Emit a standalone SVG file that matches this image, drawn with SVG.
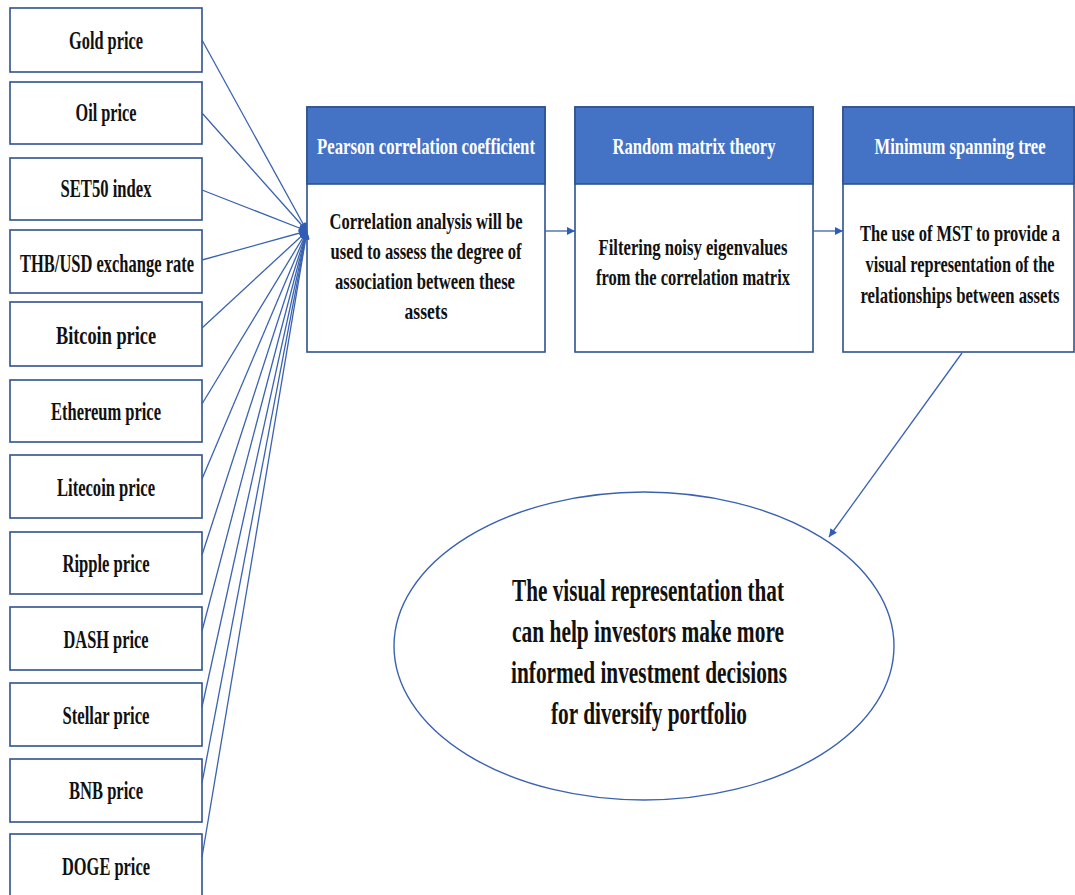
<svg xmlns="http://www.w3.org/2000/svg" width="1075" height="895" viewBox="0 0 1075 895">
<style>
.box{fill:#ffffff;stroke:#2F528F;stroke-width:1.6}
.hdr{fill:#4472C4;stroke:#2F528F;stroke-width:1.6}
.lbl{font-family:"Liberation Serif","Times New Roman",serif;font-weight:bold;font-size:25px;fill:#111111;text-anchor:middle}
.htx{font-family:"Liberation Serif","Times New Roman",serif;font-weight:bold;font-size:23px;fill:#ffffff;text-anchor:middle}
.btx{font-family:"Liberation Serif","Times New Roman",serif;font-weight:bold;font-size:23px;fill:#111111;text-anchor:middle}
.sm{font-size:18.5px}
.xs{font-size:17px}
.etx{font-family:"Liberation Serif","Times New Roman",serif;font-weight:bold;font-size:32px;fill:#111111;text-anchor:middle}
.con{fill:none;stroke:#3A62B0;stroke-width:1.3}
</style>
<defs>
<marker id="ah" viewBox="0 0 10 10" refX="10" refY="5" markerWidth="9" markerHeight="8" markerUnits="userSpaceOnUse" orient="auto">
<path d="M0,0 L10,5 L0,10 z" fill="#2F5DB5"/>
</marker>
</defs>
<rect x="0" y="0" width="1075" height="895" fill="#ffffff"/>

<g id="n-gold"><rect class="box" x="10" y="8" width="192" height="64"/><text class="lbl" x="106" y="49" textLength="74" lengthAdjust="spacingAndGlyphs">Gold price</text></g>
<g id="n-oil"><rect class="box" x="10" y="82" width="192" height="62"/><text class="lbl" x="106" y="121" textLength="61" lengthAdjust="spacingAndGlyphs">Oil price</text></g>
<g id="n-set50"><rect class="box" x="10" y="158" width="192" height="62"/><text class="lbl" x="106" y="197" textLength="91" lengthAdjust="spacingAndGlyphs">SET50 index</text></g>
<g id="n-thb"><rect class="box" x="10" y="230" width="192" height="63"/><text class="lbl" x="107" y="272" textLength="174" lengthAdjust="spacingAndGlyphs">THB/USD exchange rate</text></g>
<g id="n-btc"><rect class="box" x="10" y="302" width="192" height="64"/><text class="lbl" x="106" y="344" textLength="100" lengthAdjust="spacingAndGlyphs">Bitcoin price</text></g>
<g id="n-eth"><rect class="box" x="10" y="380" width="192" height="62"/><text class="lbl" x="106" y="420" textLength="110" lengthAdjust="spacingAndGlyphs">Ethereum price</text></g>
<g id="n-ltc"><rect class="box" x="10" y="455" width="192" height="63"/><text class="lbl" x="106" y="496" textLength="98" lengthAdjust="spacingAndGlyphs">Litecoin price</text></g>
<g id="n-xrp"><rect class="box" x="10" y="532" width="192" height="62"/><text class="lbl" x="106" y="572" textLength="87" lengthAdjust="spacingAndGlyphs">Ripple price</text></g>
<g id="n-dash"><rect class="box" x="10" y="607" width="192" height="63"/><text class="lbl" x="106" y="648" textLength="85" lengthAdjust="spacingAndGlyphs">DASH price</text></g>
<g id="n-xlm"><rect class="box" x="10" y="683" width="192" height="63"/><text class="lbl" x="106" y="724" textLength="87" lengthAdjust="spacingAndGlyphs">Stellar price</text></g>
<g id="n-bnb"><rect class="box" x="10" y="759" width="192" height="63"/><text class="lbl" x="106" y="799" textLength="74" lengthAdjust="spacingAndGlyphs">BNB price</text></g>
<g id="n-doge"><rect class="box" x="10" y="834" width="192" height="64"/><text class="lbl" x="106" y="875" textLength="88" lengthAdjust="spacingAndGlyphs">DOGE price</text></g>

<g id="n-pearson">
<rect class="box" x="307" y="107" width="238" height="245"/>
<rect class="hdr" x="307" y="107" width="238" height="77"/>
<text class="htx" x="426" y="154" textLength="218" lengthAdjust="spacingAndGlyphs">Pearson correlation coefficient</text>
<text class="btx" x="426" y="229" textLength="193" lengthAdjust="spacingAndGlyphs">Correlation analysis will be</text>
<text class="btx" x="426" y="259" textLength="191" lengthAdjust="spacingAndGlyphs">used to assess the degree of</text>
<text class="btx" x="425" y="289" textLength="180" lengthAdjust="spacingAndGlyphs">association between these</text>
<text class="btx" x="426" y="319" textLength="43" lengthAdjust="spacingAndGlyphs">assets</text>
</g>
<g id="n-rmt">
<rect class="box" x="575" y="107" width="238" height="245"/>
<rect class="hdr" x="575" y="107" width="238" height="77"/>
<text class="htx" x="694" y="154" textLength="163" lengthAdjust="spacingAndGlyphs">Random matrix theory</text>
<text class="btx" x="693" y="255" textLength="189" lengthAdjust="spacingAndGlyphs">Filtering noisy eigenvalues</text>
<text class="btx" x="693" y="285" textLength="194" lengthAdjust="spacingAndGlyphs">from the correlation matrix</text>
</g>
<g id="n-mst">
<rect class="box" x="843" y="107" width="231" height="245"/>
<rect class="hdr" x="843" y="107" width="231" height="77"/>
<text class="htx sm" transform="translate(960,154) scale(1,1.24)" x="0" y="0" textLength="171" lengthAdjust="spacingAndGlyphs">Minimum spanning tree</text>
<text class="btx xs" transform="translate(960,241) scale(1,1.35)" x="0" y="0" textLength="200" lengthAdjust="spacingAndGlyphs">The use of MST to provide a</text>
<text class="btx xs" transform="translate(960,272) scale(1,1.35)" x="0" y="0" textLength="189" lengthAdjust="spacingAndGlyphs">visual representation of the</text>
<text class="btx xs" transform="translate(960,303) scale(1,1.35)" x="0" y="0" textLength="199" lengthAdjust="spacingAndGlyphs">relationships between assets</text>
</g>
<g id="n-result">
<ellipse cx="644" cy="646" rx="250" ry="154" fill="#ffffff" stroke="#3A62B0" stroke-width="1.4"/>
<text class="etx" x="648" y="601" textLength="272" lengthAdjust="spacingAndGlyphs">The visual representation that</text>
<text class="etx" x="648" y="642" textLength="272" lengthAdjust="spacingAndGlyphs">can help investors make more</text>
<text class="etx" x="649" y="683" textLength="276" lengthAdjust="spacingAndGlyphs">informed investment decisions</text>
<text class="etx" x="649" y="724" textLength="196" lengthAdjust="spacingAndGlyphs">for diversify portfolio</text>
</g>

<g id="connectors">
<line class="con" x1="202" y1="40" x2="307" y2="231" marker-end="url(#ah)"/>
<line class="con" x1="202" y1="113" x2="307" y2="231" marker-end="url(#ah)"/>
<line class="con" x1="202" y1="190" x2="307" y2="231" marker-end="url(#ah)"/>
<line class="con" x1="202" y1="260" x2="307" y2="231" marker-end="url(#ah)"/>
<line class="con" x1="202" y1="328" x2="307" y2="231" marker-end="url(#ah)"/>
<line class="con" x1="202" y1="404" x2="307" y2="231" marker-end="url(#ah)"/>
<line class="con" x1="202" y1="479" x2="307" y2="231" marker-end="url(#ah)"/>
<line class="con" x1="202" y1="555" x2="307" y2="231" marker-end="url(#ah)"/>
<line class="con" x1="202" y1="631" x2="307" y2="231" marker-end="url(#ah)"/>
<line class="con" x1="202" y1="707" x2="307" y2="231" marker-end="url(#ah)"/>
<line class="con" x1="202" y1="783" x2="307" y2="231" marker-end="url(#ah)"/>
<line class="con" x1="202" y1="857" x2="307" y2="231" marker-end="url(#ah)"/>
<line class="con" x1="545" y1="231" x2="575" y2="231" marker-end="url(#ah)"/>
<line class="con" x1="813" y1="231" x2="843" y2="231" marker-end="url(#ah)"/>
<line class="con" x1="962" y1="353" x2="829" y2="537" marker-end="url(#ah)"/>
</g>
</svg>
